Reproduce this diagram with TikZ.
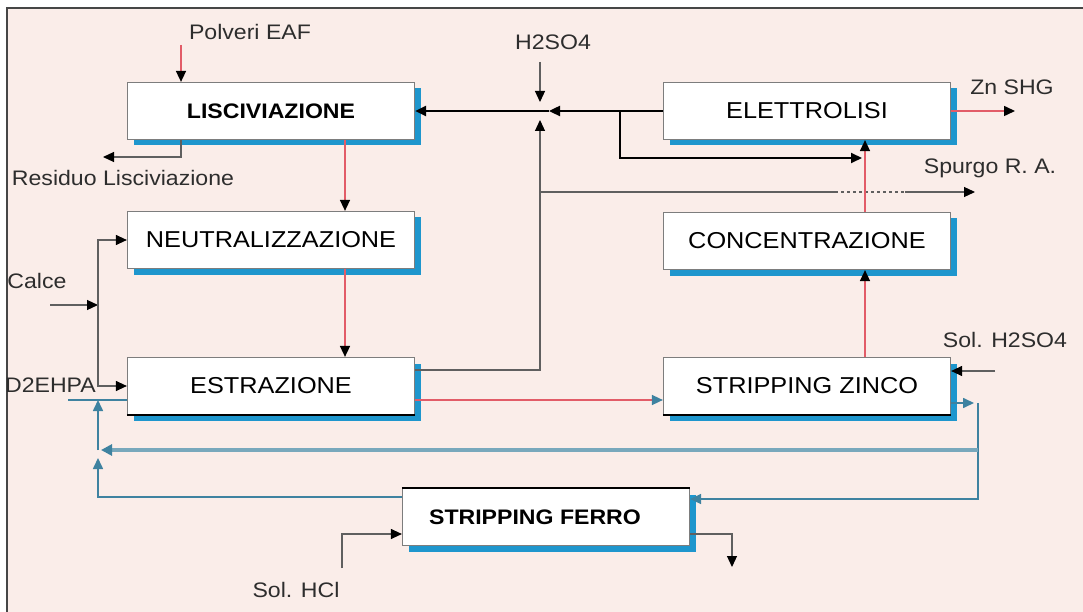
\documentclass[tikz,border=0pt]{standalone}
\usepackage{fontspec}
\newfontfamily\diafont{Liberation Sans}[FakeStretch=1.1]
\usepackage{tikz}
\usetikzlibrary{arrows.meta,shadows}
\definecolor{bgpink}{RGB}{250,237,233}
\definecolor{framegray}{RGB}{70,70,70}
\definecolor{boxgray}{RGB}{125,125,125}
\definecolor{shadowblue}{RGB}{30,150,205}
\definecolor{redflow}{RGB}{226,92,104}
\definecolor{tealflow}{RGB}{62,130,160}
\definecolor{tealpale}{RGB}{120,168,188}
\definecolor{grayflow}{RGB}{95,95,95}
\definecolor{labelgray}{RGB}{45,45,45}

\begin{document}
\begin{tikzpicture}[x=1pt,y=-1pt,>={Triangle[length=11pt,width=10pt]},
    font=\diafont\fontsize{21}{24}\selectfont,
    procbox/.style={draw=boxgray,line width=1.2pt,fill=white,inner sep=0pt,
      minimum width=287pt,minimum height=57pt,
      font=\diafont\fontsize{23}{26}\selectfont,
      drop shadow={fill=shadowblue,shadow xshift=6pt,shadow yshift=-6pt,opacity=1}},
    boldbox/.style={procbox,font=\diafont\bfseries\fontsize{21}{24}\selectfont},
    lbl/.style={text=labelgray,inner sep=0pt},
    flowred/.style={draw=redflow,line width=1.5pt,-{Triangle[length=11pt,width=10pt,color=black]}},
    flowgray/.style={draw=grayflow,line width=1.2pt,-{Triangle[length=11pt,width=10pt,color=black]}},
    linegray/.style={draw=grayflow,line width=1.2pt},
    flowblack/.style={draw=black,line width=2.4pt,->},
    flowteal/.style={draw=tealflow,line width=1.6pt,->},
    flowtealthick/.style={draw=tealpale,line width=4pt,-{Triangle[length=11pt,width=11pt,color=tealflow]}}]
  \useasboundingbox (0,0) rectangle (1083,612);
  \fill[white] (0,0) rectangle (1083,612);
  \fill[bgpink] (7,8) rectangle (1083,612);
  \draw[framegray,line width=1.5pt] (7,612) -- (7,8) -- (1083,8);

  % process units
  \node[boldbox] (lisc) at (271,111) {LISCIVIAZIONE};
  \node[procbox] (neut) at (271,240) {NEUTRALIZZAZIONE};
  \node[procbox] (estr) at (271,386) {ESTRAZIONE};
  \node[procbox] (elet) at (807,111) {ELETTROLISI};
  \node[procbox] (conc) at (807,241) {CONCENTRAZIONE};
  \node[procbox] (strz) at (807,386) {STRIPPING ZINCO};
  \node[boldbox] (strf) at (546,517) {STRIPPING FERRO\hspace*{22pt}};
  \draw[line width=2.4pt] (estr.south west) -- (estr.south east);
  \draw[line width=2.4pt] (strz.south west) -- (strz.south east);
  \draw[line width=2.4pt] (strf.north west) -- (strf.north east);

  % stream labels
  \node[lbl] (polv) at (250,32) {Polveri EAF};
  \node[lbl] (resi) at (123,178) {Residuo Lisciviazione};
  \node[lbl] (calce) at (37,281) {Calce};
  \node[lbl,anchor=east] (dehpa) at (96,385) {D2EHPA};
  \node[lbl] (acid) at (553,42) {H2SO4};
  \node[lbl] (znshg) at (1012,87) {Zn SHG};
  \node[lbl] (spurgo) at (990,168) {Spurgo R. A.};
  \node[lbl] (solacid) at (1005,340) {Sol. H2SO4};
  \node[lbl] (solhcl) at (296,590) {Sol. HCl};

  % junctions and free ends
  \coordinate (polvin) at (181,45);
  \coordinate (resend) at (103,157);
  \coordinate (calcein) at (50,305);
  \coordinate (jcal) at (98,305);
  \coordinate (acidin) at (540,62);
  \coordinate (jacid) at (540,111);
  \coordinate (jbranch) at (620,111);
  \coordinate (jpurge) at (862,158);
  \coordinate (jspurgo) at (540,192);
  \coordinate (dasha) at (835,192);
  \coordinate (dashb) at (905,192);
  \coordinate (spurgoend) at (975,192);
  \coordinate (znend) at (1015,111);
  \coordinate (solin) at (995,371);
  \coordinate (jzr) at (978,403);
  \coordinate (jzm) at (978,450);
  \coordinate (jlm) at (98,450);
  \coordinate (jorg) at (98,400);
  \coordinate (orgin) at (68,400);
  \coordinate (hclin) at (342,568);
  \coordinate (fout) at (732,567);

  % leaching and neutralisation
  \draw[flowred] (polvin) -- (polvin |- lisc.north);
  \draw[flowgray] (polvin |- lisc.south) |- (resend);
  \draw[flowred] ([xshift=74pt]lisc.south) -- ([xshift=74pt]neut.north);
  \draw[flowred] ([xshift=74pt]neut.south) -- ([xshift=74pt]estr.north);
  \draw[flowgray] (calcein) -- (jcal);
  \draw[flowgray] (jcal) |- (neut.west);
  \draw[flowgray] (jcal) |- (estr.west);

  % acid recycle
  \draw[flowgray] (acidin) -- ([yshift=9pt]jacid);
  \draw[flowgray] ([yshift=16pt]estr.east) -| ([yshift=-9pt]jacid);
  \draw[flowblack] (elet.west) -- ([xshift=9pt]jacid);
  \draw[flowblack] ([xshift=9pt]jacid) -- (lisc.east);
  \draw[draw=black,line width=1.8pt,->] (jbranch) |- (jpurge);
  \draw[linegray] (jspurgo) -- (dasha);
  \draw[linegray,dashed] (dasha) -- (dashb);
  \draw[flowgray] (dashb) -- (spurgoend);

  % zinc line
  \draw[flowred,-{Triangle[length=11pt,width=10pt,color=tealflow]}] ([yshift=-14pt]estr.east) -- ([yshift=-14pt]strz.west);
  \draw[flowred] ([xshift=58pt]strz.north) -- ([xshift=58pt]conc.south);
  \draw[flowred] ([xshift=58pt]conc.north) -- ([xshift=58pt]elet.south);
  \draw[flowred] (elet.east) -- (znend);
  \draw[flowgray] (solin) -- ([yshift=15pt]strz.east);

  % organic loop
  \draw[flowteal] ([yshift=-17pt]strz.east) -- ([xshift=-4pt]jzr);
  \draw[flowteal] (jzr) |- ([yshift=18pt]strf.east);
  \draw[flowtealthick] (jzm) -- ([xshift=3pt]jlm);
  \draw[flowteal] ([yshift=20pt]strf.west) -| ([yshift=-8pt]jlm);
  \draw[flowteal] (jlm) -- (jorg);
  \draw[draw=tealflow,line width=1.2pt] (orgin) -- ([yshift=-14pt]estr.west);

  % iron stripping
  \draw[flowgray] (hclin) |- ([yshift=-17pt]strf.west);
  \draw[flowgray] ([yshift=-17pt]strf.east) -| (fout);
\end{tikzpicture}
\end{document}
